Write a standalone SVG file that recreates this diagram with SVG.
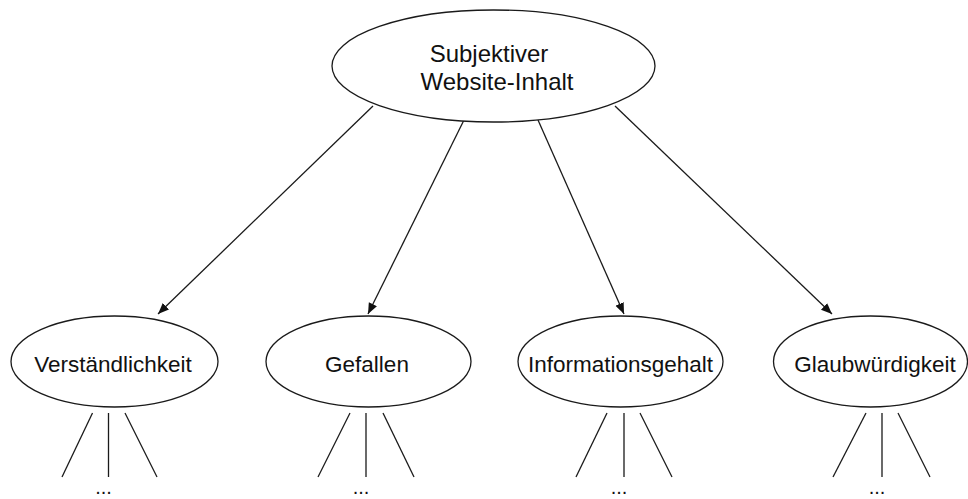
<svg xmlns="http://www.w3.org/2000/svg" width="968" height="499" viewBox="0 0 968 499">
<style>
.n{fill:#fff;stroke:#1a1a1a;stroke-width:1.3}
.t{font-family:"Liberation Sans",Arial,sans-serif;fill:#111;text-anchor:middle}
.d{font-family:"Liberation Sans",Arial,sans-serif;fill:#111;text-anchor:middle;font-size:20px}
.c{stroke:#1a1a1a;stroke-width:1.3;fill:none}
</style>
<defs>
<marker id="ah" markerUnits="userSpaceOnUse" markerWidth="12" markerHeight="10" refX="11" refY="4.5" orient="auto">
<path d="M0,0 L11,4.5 L0,9 Z" fill="#111"/>
</marker>
</defs>
<rect width="968" height="499" fill="#fff"/>
<g id="connectors">
<line class="c" x1="373" y1="106" x2="158" y2="314" marker-end="url(#ah)"/>
<line class="c" x1="464" y1="120" x2="368" y2="314" marker-end="url(#ah)"/>
<line class="c" x1="538" y1="120" x2="624" y2="314" marker-end="url(#ah)"/>
<line class="c" x1="615" y1="106" x2="832" y2="314" marker-end="url(#ah)"/>
<line class="c" x1="92.5" y1="413" x2="62" y2="477"/>
<line class="c" x1="108.5" y1="413" x2="108.5" y2="477"/>
<line class="c" x1="125" y1="413" x2="157" y2="477"/>
<line class="c" x1="350" y1="413" x2="318" y2="477"/>
<line class="c" x1="366" y1="413" x2="366" y2="477"/>
<line class="c" x1="383" y1="413" x2="414" y2="477"/>
<line class="c" x1="607" y1="413" x2="576" y2="477"/>
<line class="c" x1="624" y1="413" x2="624" y2="477"/>
<line class="c" x1="640" y1="413" x2="672" y2="477"/>
<line class="c" x1="866" y1="413" x2="833" y2="477"/>
<line class="c" x1="882" y1="413" x2="882" y2="477"/>
<line class="c" x1="898" y1="413" x2="930" y2="477"/>
</g>
<g id="root">
<ellipse class="n" cx="493.5" cy="66" rx="161.5" ry="56"/>
<text class="t" x="489" y="62" font-size="24">Subjektiver</text>
<text class="t" x="497" y="90" font-size="24">Website-Inhalt</text>
</g>
<g id="verstaendlichkeit">
<ellipse class="n" cx="114.5" cy="361.5" rx="103.5" ry="45.5"/>
<text class="t" x="113" y="372" font-size="22.5">Verständlichkeit</text>
<text class="d" x="103.5" y="494">...</text>
</g>
<g id="gefallen">
<ellipse class="n" cx="368.5" cy="361.5" rx="102.5" ry="45.5"/>
<text class="t" x="367" y="372" font-size="22.5">Gefallen</text>
<text class="d" x="361" y="494">...</text>
</g>
<g id="informationsgehalt">
<ellipse class="n" cx="620.5" cy="361.5" rx="102.5" ry="45.5"/>
<text class="t" x="620.5" y="372" font-size="22.5">Informationsgehalt</text>
<text class="d" x="619" y="494">...</text>
</g>
<g id="glaubwuerdigkeit">
<ellipse class="n" cx="870.5" cy="361.5" rx="97" ry="45.5"/>
<text class="t" x="875" y="372" font-size="22.5">Glaubwürdigkeit</text>
<text class="d" x="877" y="494">...</text>
</g>
</svg>
